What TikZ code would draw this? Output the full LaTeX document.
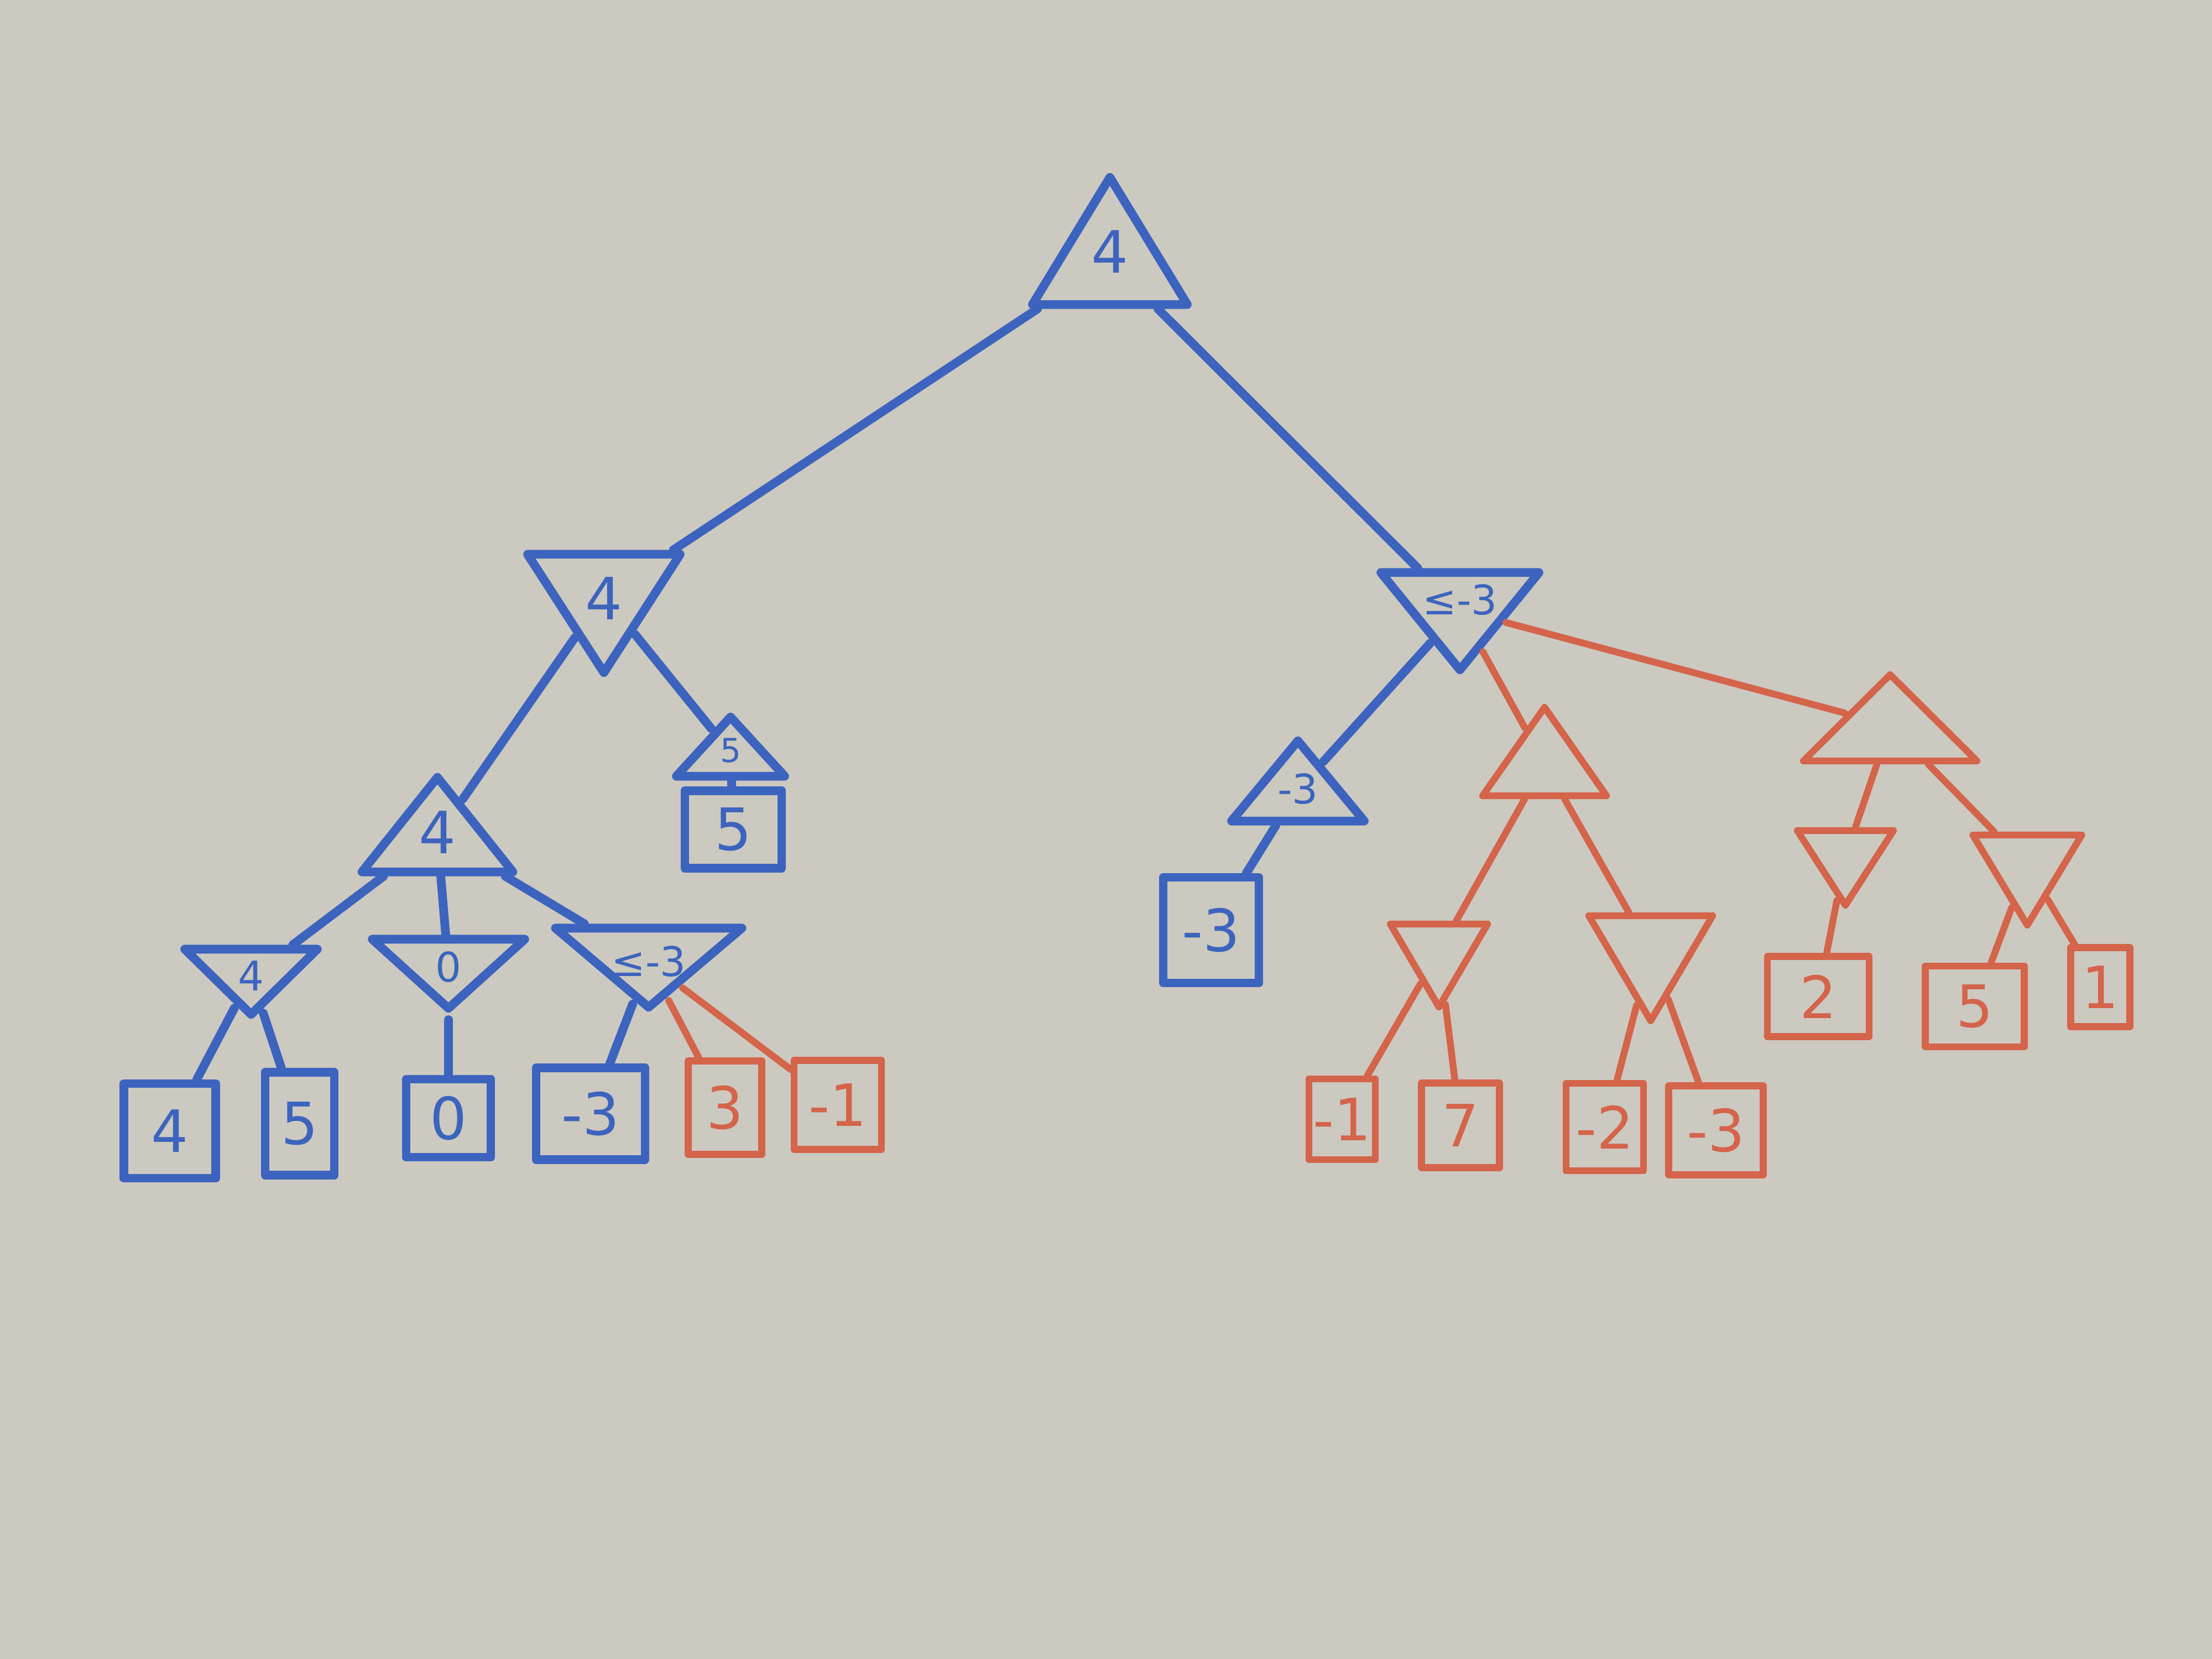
\documentclass[tikz,border=0pt]{standalone}
\usepackage{fontspec}
\setmainfont{DejaVu Sans}
\usetikzlibrary{shapes.geometric,calc}
\definecolor{blau}{RGB}{60,100,190}
\definecolor{rot}{RGB}{212,100,74}
\definecolor{tafel}{RGB}{204,201,192}

\begin{document}
\begin{tikzpicture}[
    line join=round, line cap=round,
    maxk/.style={isosceles triangle, isosceles triangle stretches,
                 shape border rotate=90, draw, inner sep=0pt, anchor=apex},
    mink/.style={isosceles triangle, isosceles triangle stretches,
                 shape border rotate=270, draw, inner sep=0pt, anchor=apex},
    blatt/.style={rectangle, draw, inner sep=0pt},
    bl/.style={blau, line width=4.5pt},
    rt/.style={rot, line width=3.5pt},
    wert/.style={inner sep=0pt, font=\fontsize{30}{34}\selectfont},
    klein/.style={inner sep=0pt, font=\fontsize{21}{24}\selectfont},
    winzig/.style={inner sep=0pt, font=\fontsize{17}{20}\selectfont}
  ]
  % Tafel
  \fill[tafel] (0,0) rectangle (40,-30);
  % Wurzel
  \node[maxk, bl, minimum width=2.80cm, minimum height=2.30cm] (w) at (20.07,-3.00) {};
  % linker Teilbaum
  \node[mink, bl, minimum width=2.76cm, minimum height=2.14cm] (l) at (10.92,-12.37) {};
  \node[maxk, bl, minimum width=2.73cm, minimum height=1.71cm] (ll) at (7.91,-13.85) {};
  \node[maxk, bl, minimum width=1.96cm, minimum height=1.07cm] (lr) at (13.21,-12.76) {};
  \node[mink, bl, minimum width=2.40cm, minimum height=1.18cm] (lla) at (4.54,-18.55) {};
  \node[mink, bl, minimum width=2.76cm, minimum height=1.25cm] (llb) at (8.11,-18.44) {};
  \node[mink, bl, minimum width=3.37cm, minimum height=1.43cm] (llc) at (11.73,-18.42) {};
  % rechter Teilbaum
  \node[mink, bl, minimum width=2.86cm, minimum height=1.76cm] (r) at (26.40,-12.32) {};
  \node[maxk, bl, minimum width=2.40cm, minimum height=1.45cm] (ra) at (23.47,-13.19) {};
  \node[maxk, rt, minimum width=2.24cm, minimum height=1.60cm] (rb) at (27.93,-12.63) {};
  \node[maxk, rt, minimum width=3.14cm, minimum height=1.56cm] (rc) at (34.18,-12.04) {};
  \node[mink, rt, minimum width=1.76cm, minimum height=1.50cm] (rba) at (26.02,-18.37) {};
  \node[mink, rt, minimum width=2.24cm, minimum height=1.90cm] (rbb) at (29.85,-18.62) {};
  \node[mink, rt, minimum width=1.74cm, minimum height=1.35cm] (rca) at (33.37,-16.53) {};
  \node[mink, rt, minimum width=1.97cm, minimum height=1.63cm] (rcb) at (36.66,-16.89) {};
  % Werte in den Dreiecken
  \node[wert, blau] (w-z) at ($(w.apex)!0.6!(w.lower side)$) {4};
  \node[wert, blau] (l-z) at ($(l.apex)!0.64!(l.lower side)$) {4};
  \node[wert, blau] (ll-z) at ($(ll.apex)!0.6!(ll.lower side)$) {4};
  \node[winzig, blau] (lr-z) at ($(lr.apex)!0.6!(lr.lower side)$) {5};
  \node[klein, blau] (lla-z) at ($(lla.apex)!0.62!(lla.lower side)$) {4};
  \node[klein, blau] (llb-z) at ($(llb.apex)!0.62!(llb.lower side)$) {0};
  \node[klein, blau] (llc-z) at ($(llc.apex)!0.6!(llc.lower side)$) {≤-3};
  \node[klein, blau] (r-z) at ($(r.apex)!0.72!(r.lower side)$) {≤-3};
  \node[klein, blau] (ra-z) at ($(ra.apex)!0.62!(ra.lower side)$) {-3};
  % Blaetter
  \node[blatt, bl, wert, minimum width=1.66cm, minimum height=1.71cm] (b1) at (3.07,-20.45) {4};
  \node[blatt, bl, wert, minimum width=1.25cm, minimum height=1.86cm] (b2) at (5.42,-20.32) {5};
  \node[blatt, bl, wert, minimum width=1.53cm, minimum height=1.41cm] (b3) at (8.11,-20.22) {0};
  \node[blatt, bl, wert, minimum width=1.97cm, minimum height=1.66cm] (b4) at (10.68,-20.14) {-3};
  \node[blatt, rt, wert, minimum width=1.33cm, minimum height=1.69cm] (b5) at (13.11,-20.03) {3};
  \node[blatt, rt, wert, minimum width=1.58cm, minimum height=1.61cm] (b6) at (15.15,-19.98) {-1};
  \node[blatt, bl, wert, minimum width=1.75cm, minimum height=1.40cm] (b7) at (13.26,-15.00) {5};
  \node[blatt, bl, wert, minimum width=1.73cm, minimum height=1.91cm] (b8) at (21.90,-16.82) {-3};
  \node[blatt, rt, wert, minimum width=1.20cm, minimum height=1.46cm] (b9) at (24.27,-20.24) {-1};
  \node[blatt, rt, wert, minimum width=1.41cm, minimum height=1.53cm] (b10) at (26.41,-20.35) {7};
  \node[blatt, rt, wert, minimum width=1.40cm, minimum height=1.58cm] (b11) at (29.02,-20.38) {-2};
  \node[blatt, rt, wert, minimum width=1.71cm, minimum height=1.61cm] (b12) at (31.03,-20.44) {-3};
  \node[blatt, rt, wert, minimum width=1.84cm, minimum height=1.45cm] (b13) at (32.88,-18.02) {2};
  \node[blatt, rt, wert, minimum width=1.79cm, minimum height=1.46cm] (b14) at (35.71,-18.20) {5};
  \node[blatt, rt, wert, minimum width=1.07cm, minimum height=1.43cm] (b15) at (37.98,-17.85) {1};
  % Kanten
  \foreach \a/\b in {w/l, w/r, l/ll, l/lr, ll/lla, ll/llb, ll/llc, lla/b1, lla/b2,
                     llb/b3, llc/b4, lr/b7, r/ra, ra/b8}
    \draw[bl] (\a) -- (\b);
  \foreach \a/\b in {llc/b5, llc/b6, r/rb, r/rc, rb/rba, rb/rbb, rba/b9, rba/b10,
                     rbb/b11, rbb/b12, rc/rca, rc/rcb, rca/b13, rcb/b14, rcb/b15}
    \draw[rt] (\a) -- (\b);
\end{tikzpicture}
\end{document}
